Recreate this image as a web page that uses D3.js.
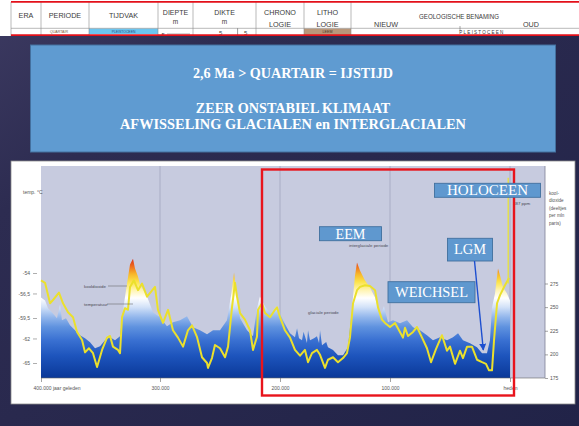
<!DOCTYPE html>
<html>
<head>
<meta charset="utf-8">
<script src="https://cdn.jsdelivr.net/npm/d3@7/dist/d3.min.js"></script>
<style>
  html, body { margin: 0; padding: 0; background: #2a2a4c; overflow: hidden; }
  svg { display: block; }
</style>
</head>
<body>
<svg id="slide" width="579" height="426"></svg>
<script>
// ---- Data -------------------------------------------------------------
// Antarctic ice-core temperature (°C), [thousand years ago, temp]
const temperature = [
  [400,-54.9],[396.6,-55.2],[392.4,-57.7],[389.9,-57.3],[384.9,-56.4],[381.5,-57.7],
  [377.3,-58.8],[373.1,-59.4],[369.7,-61.2],[365.5,-62.2],[363.0,-63.7],[359.7,-63.2],
  [356.3,-63.8],[352.9,-65.5],[348.7,-63.4],[344.5,-61.9],[342.0,-61.7],[339.5,-63.0],
  [335.3,-63.4],[333.6,-63.8],[331.9,-59.4],[329.4,-58.3],[326.9,-58.5],[325.2,-55.7],
  [321.9,-54.9],[318.5,-56.1],[315.1,-55.3],[310.9,-56.9],[307.6,-56.3],[304.2,-55.7],
  [301.7,-58.5],[297.5,-60.1],[293.3,-58.5],[289.2,-61.0],[285.0,-61.9],[280.8,-63.0],
  [276.7,-61.0],[273.3,-60.4],[269.2,-61.8],[265.0,-64.3],[260.8,-65.0],[260.0,-65.6],
  [256.7,-64.4],[254.2,-62.8],[250.0,-63.2],[245.8,-64.3],[243.3,-63.0],[240.0,-58.2],
  [237.5,-55.2],[235.8,-56.9],[233.3,-58.9],[229.2,-59.7],[225.0,-61.0],[222.5,-63.4],
  [219.2,-61.8],[218.3,-58.5],[215.0,-57.7],[212.5,-58.9],[208.3,-59.4],[204.2,-58.5],
  [202.5,-58.2],[200.0,-59.4],[195.5,-61.0],[190.9,-61.9],[186.4,-63.4],[181.8,-64.1],
  [177.3,-63.4],[174.5,-64.9],[170.9,-63.8],[166.4,-63.4],[163.6,-64.0],[159.1,-65.6],
  [156.4,-64.6],[151.8,-64.3],[147.3,-64.9],[142.7,-64.4],[139.1,-63.8],[136.4,-61.9],
  [133.6,-57.7],[130.0,-56.1],[127.3,-55.7],[122.7,-55.5],[118.2,-55.6],[113.6,-56.1],
  [110.9,-58.2],[107.3,-59.7],[104.5,-60.1],[100.0,-60.6],[95.8,-60.1],[91.7,-61.2],
  [89.2,-61.9],[87.5,-60.7],[85.0,-61.7],[80.8,-61.2],[77.5,-60.6],[73.3,-61.9],
  [69.2,-63.2],[65.8,-64.9],[61.7,-63.3],[56.7,-61.6],[52.5,-63.5],[50.0,-63.0],
  [45.8,-65.1],[41.7,-63.5],[39.2,-64.4],[35.8,-63.0],[31.7,-63.0],[27.5,-64.6],
  [23.3,-64.9],[20.0,-65.1],[17.5,-65.9],[15.0,-65.9],[13.3,-62.2],[10.8,-57.7],
  [8.3,-56.7],[4.2,-55.5],[0.8,-54.6]
];

// Atmospheric CO2 (ppm), [thousand years ago, ppm]
const co2 = [
  [400,260.3],[396.6,257.1],[394.1,248.7],[390.8,244.5],[386.6,238.2],[384.0,252.9],
  [382.4,236.1],[379.0,238.2],[375.6,230.8],[371.4,225.5],[367.2,220.3],[363.0,217.1],
  [358.8,212.9],[354.6,206.6],[350.4,208.7],[346.2,215.0],[342.0,218.2],[337.8,215.0],
  [333.6,219.2],[331.1,246.6],[327.7,275.0],[325.2,295.0],[322.7,301.3],[321.0,290.8],
  [318.5,282.4],[316.8,274.0],[310.9,261.3],[305.9,244.5],[300.0,239.2],[294.2,229.7],
  [289.2,233.9],[283.3,236.1],[277.5,240.3],[272.5,228.7],[266.7,225.5],[260.8,221.3],
  [255.8,225.5],[250.0,225.5],[244.2,236.1],[240.8,262.4],[238.3,286.6],[235.8,259.2],
  [233.3,238.2],[227.5,225.5],[222.5,219.2],[219.2,248.7],[216.7,261.3],[212.5,250.8],
  [208.3,243.4],[202.5,250.8],[197.3,236.1],[190.9,222.4],[186.4,218.2],[184.5,227.6],
  [182.7,217.1],[180.0,215.0],[178.6,224.0],[177.3,219.2],[175.5,212.0],[174.5,225.5],
  [172.7,215.0],[169.1,217.1],[166.4,219.2],[164.5,212.0],[163.6,225.5],[161.8,209.7],
  [158.0,213.0],[156.4,207.6],[151.8,204.5],[147.3,199.2],[142.7,199.2],[138.2,207.6],
  [134.5,249.7],[131.8,283.4],[130.0,297.1],[127.3,288.7],
  [122.7,278.2],[118.2,270.8],[113.6,260.3],[109.1,240.3],[105.5,250.8],[101.8,233.9],
  [97.5,236.1],[91.7,232.9],[85.8,236.1],[80.8,228.7],[75.0,225.5],[69.2,220.3],
  [64.2,215.0],[58.3,218.2],[52.5,215.0],[47.5,218.2],[43.3,222.4],[39.2,215.0],
  [33.3,211.8],[27.5,207.6],[23.3,201.3],[19.2,201.3],[16.7,215.0],[15.0,249.7],
  [12.5,264.5],[10.0,290.8],[8.3,283.4],[5.8,270.8],[2.5,264.5],[0,257.1]
];

// Recent CO2 rise
const modernCo2 = [[1.5, 275], [1.5, 387]];

// Axis ticks
const xTicks = [400, 300, 200, 100, 0];
const xTickLabels = ["400.000 jaar geleden", "300.000", "200.000", "100.000", "heden"];
const tempTicks = [-54, -56.5, -59.5, -62, -65];
const tempTickLabels = ["-54", "-56,5", "-59,5", "-62", "-65"];
const co2Ticks = [275, 250, 225, 200, 175];

// Table header
const tableHeaders = [["ERA"], ["PERIODE"], ["TIJDVAK"], ["DIEPTE", "m"], ["DIKTE", "m"], ["CHRONO", "LOGIE"], ["LITHO", "LOGIE"]];
const titleLines = ["2,6 Ma > QUARTAIR = IJSTIJD", "ZEER ONSTABIEL KLIMAAT", "AFWISSELING GLACIALEN en INTERGLACIALEN"];
const callouts = ["HOLOCEEN", "EEM", "LGM", "WEICHSEL"];

// ---- Layout -----------------------------------------------------------
const W = 579, H = 426;
const plot = { left: 41, right: 545, top: 166, bottom: 378 };

const svg = d3.select("#slide");
const defs = svg.append("defs");

function gradient(id, attrs, stops) {
  const g = defs.append("linearGradient").attr("id", id);
  Object.entries(attrs).forEach(([k, v]) => g.attr(k, v));
  stops.forEach(([o, c]) => g.append("stop").attr("offset", o).attr("stop-color", c));
}
gradient("bg", { x1: 0, y1: 0, x2: 1, y2: 1 },
  [[0, "#3c3a61"], [0.25, "#2d2c51"], [1, "#212348"]]);

const x = d3.scaleLinear().domain(xTicks).range([41, 160, 280, 390, 510]);
const yTemp = d3.scaleLinear().domain([-65, -54]).range([363, 273]);
const yCo2 = d3.scaleLinear().domain([175, 275]).range([378, 283.5]);

// fill colour by height: red peaks, yellow, white, then deepening blue
const co2Stops = [
  [258, "#d42a1a"], [266, "#ee6a1e"], [274, "#f7b62a"], [282, "#fce44a"],
  [290, "#fff4b0"], [298, "#ffffff"], [307, "#d3e2f8"], [317, "#93b7ec"],
  [327, "#5f92df"], [340, "#3a71d2"], [356, "#1d54bc"], [378, "#0a3898"]
];
gradient("co2fill", { gradientUnits: "userSpaceOnUse", x1: 0, y1: 258, x2: 0, y2: 378 },
  co2Stops.map(([py, c]) => [(py - 258) / 120, c]));

defs.append("marker").attr("id", "arrow").attr("viewBox", "0 0 10 10")
  .attr("refX", 9).attr("refY", 5).attr("markerWidth", 5).attr("markerHeight", 5)
  .attr("orient", "auto")
  .append("path").attr("d", "M0,0 L10,5 L0,10 z").attr("fill", "#1d4fd0");

// Slide background
svg.append("rect").attr("width", W).attr("height", H).attr("fill", "url(#bg)");

// ---- Header table -----------------------------------------------------
const table = svg.append("g").attr("font-family", "Liberation Sans, Arial, sans-serif").attr("fill", "#3a3a3a");
table.append("rect").attr("x", 0).attr("y", 0).attr("width", W).attr("height", 36).attr("fill", "#ffffff");
const colEdges = [11, 41, 89, 158, 193, 256, 304, 351];
// coloured cells of the second row
table.append("rect").attr("x", 89).attr("y", 28.5).attr("width", 69).attr("height", 5.5).attr("fill", "#6cc5ef");
table.append("rect").attr("x", 304).attr("y", 28.5).attr("width", 47).attr("height", 6.5).attr("fill", "#b9977a");
colEdges.forEach(cx => table.append("line").attr("x1", cx).attr("x2", cx).attr("y1", 2).attr("y2", 36)
  .attr("stroke", "#8a8a8a").attr("stroke-width", 0.6));
table.append("line").attr("x1", 11).attr("x2", W).attr("y1", 28.3).attr("y2", 28.3).attr("stroke", "#8a8a8a").attr("stroke-width", 0.6);

tableHeaders.forEach((lines, i) => {
  const cx = (colEdges[i] + colEdges[i + 1]) / 2;
  lines.forEach((t, j) => {
    let by, fs = 7.2;
    if (lines.length === 1) by = 17.5;
    else if (t === "m") { by = 24; fs = 6.5; }
    else if (lines[1] === "m") { by = 15; fs = 7; }
    else by = j === 0 ? 14.5 : 26.5;
    table.append("text").attr("x", cx).attr("y", by).attr("text-anchor", "middle")
      .attr("font-size", fs).text(t);
  });
});
table.append("text").attr("x", 386).attr("y", 27.3).attr("text-anchor", "middle").attr("font-size", 7.2).text("NIEUW");
table.append("text").attr("x", 459).attr("y", 19.2).attr("text-anchor", "middle").attr("font-size", 7.2)
  .attr("textLength", 80).attr("lengthAdjust", "spacingAndGlyphs").text("GEOLOGISCHE BENAMING");
table.append("text").attr("x", 531).attr("y", 27.3).attr("text-anchor", "middle").attr("font-size", 7.2).text("OUD");
table.append("line").attr("x1", 460).attr("x2", 460).attr("y1", 26).attr("y2", 31).attr("stroke", "#555").attr("stroke-width", 0.5);

// second row content
table.append("text").attr("x", 59).attr("y", 33).attr("text-anchor", "middle").attr("font-size", 3.6).attr("fill", "#7a5a3a").text("QUARTAIR");
table.append("text").attr("x", 123.5).attr("y", 32.8).attr("text-anchor", "middle").attr("font-size", 3.4).attr("fill", "#2a4a7a").text("PLEISTOCEEN");
table.append("text").attr("x", 327.5).attr("y", 33).attr("text-anchor", "middle").attr("font-size", 3.6).attr("fill", "#4a3020").text("LEEM");
table.append("text").attr("x", 161.5).attr("y", 36.5).attr("font-size", 6).text("5");
table.append("line").attr("x1", 167).attr("x2", 190).attr("y1", 34).attr("y2", 34).attr("stroke", "#555").attr("stroke-width", 0.5);
table.append("text").attr("x", 219).attr("y", 35).attr("font-size", 6).text("5");
table.append("line").attr("x1", 237.6).attr("x2", 237.6).attr("y1", 28.3).attr("y2", 36).attr("stroke", "#555").attr("stroke-width", 0.6);
table.append("text").attr("x", 244).attr("y", 35).attr("font-size", 6).text("5");
table.append("text").attr("x", 482).attr("y", 33.5).attr("text-anchor", "middle").attr("font-size", 4.6)
  .attr("letter-spacing", 1.2).text("PLEISTOCEEN");

// red frame lines
[1.8, 35.2].forEach(ry => svg.append("line").attr("x1", 11).attr("x2", W).attr("y1", ry).attr("y2", ry)
  .attr("stroke", "#e3101a").attr("stroke-width", 1.8));

// ---- Title box --------------------------------------------------------
svg.append("rect").attr("x", 30.5).attr("y", 45).attr("width", 525).attr("height", 107)
  .attr("fill", "#5f9bd1").attr("stroke", "#44709e").attr("stroke-width", 1);
const titleY = [78, 112.5, 128.8];
const titleW = [200, 194.5, 346];
titleLines.forEach((t, i) => {
  svg.append("text").attr("x", 293).attr("y", titleY[i]).attr("text-anchor", "middle")
    .attr("font-family", "Liberation Serif, Times New Roman, serif").attr("font-weight", "bold")
    .attr("font-size", 14).attr("fill", "#ffffff")
    .attr("textLength", titleW[i]).attr("lengthAdjust", "spacingAndGlyphs").text(t);
});

// ---- Chart panel ------------------------------------------------------
svg.append("rect").attr("x", 11).attr("y", 161).attr("width", 564).attr("height", 243)
  .attr("fill", "#ffffff").attr("stroke", "#8c8c8c").attr("stroke-width", 0.8);
svg.append("rect").attr("x", plot.left).attr("y", plot.top).attr("width", plot.right - plot.left)
  .attr("height", plot.bottom - plot.top).attr("fill", "#c7cbdf");

// vertical guide lines
svg.append("g").selectAll("line").data(xTicks.slice(1)).join("line")
  .attr("x1", d => x(d)).attr("x2", d => x(d)).attr("y1", plot.top).attr("y2", plot.bottom)
  .attr("stroke", "#9da2ba").attr("stroke-width", 0.7);

// CO2 area
svg.append("path").datum(co2)
  .attr("d", d3.area().x(d => x(d[0])).y0(plot.bottom).y1(d => yCo2(d[1])))
  .attr("fill", "url(#co2fill)");

// temperature line
svg.append("path").datum(temperature)
  .attr("d", d3.line().x(d => x(d[0])).y(d => yTemp(d[1])))
  .attr("fill", "none").attr("stroke", "#ebe02c").attr("stroke-width", 2).attr("stroke-linejoin", "round");

// recent CO2 rise
svg.append("path").datum(modernCo2)
  .attr("d", d3.line().x(d => x(d[0])).y(d => yCo2(d[1])))
  .attr("fill", "none").attr("stroke", "#e8e23a").attr("stroke-width", 1.3);

// ---- Axes -------------------------------------------------------------
const small = "Liberation Sans, Arial, sans-serif";
const xAxis = svg.append("g").attr("transform", `translate(0,${plot.bottom})`)
  .call(d3.axisBottom(x).tickValues(xTicks).tickFormat((d, i) => xTickLabels[i]).tickSize(4).tickPadding(4));
xAxis.select(".domain").attr("d", `M${plot.left},0H${plot.right}`).attr("stroke", "#666").attr("stroke-width", 0.6);
xAxis.selectAll(".tick line").attr("stroke", "#666").attr("stroke-width", 0.6);
xAxis.selectAll(".tick text").attr("font-family", small).attr("font-size", 5).attr("fill", "#555");
xAxis.selectAll(".tick text").filter(d => d === 400).attr("text-anchor", "start").attr("dx", -8);

const yAxisL = svg.append("g").attr("transform", "translate(37,0)")
  .call(d3.axisLeft(yTemp).tickValues(tempTicks).tickFormat((d, i) => tempTickLabels[i]).tickSize(4).tickPadding(3));
yAxisL.select(".domain").remove();
yAxisL.selectAll(".tick line").attr("stroke", "#777").attr("stroke-width", 0.6);
yAxisL.selectAll(".tick text").attr("font-family", small).attr("font-size", 5).attr("fill", "#555");
svg.append("text").attr("x", 23).attr("y", 193.5).attr("font-family", small).attr("font-size", 5).attr("fill", "#555").text("temp. °C");

svg.append("line").attr("x1", plot.right).attr("x2", plot.right).attr("y1", plot.top).attr("y2", plot.bottom)
  .attr("stroke", "#7d8196").attr("stroke-width", 0.8);
const yAxisR = svg.append("g").attr("transform", `translate(${plot.right},0)`)
  .call(d3.axisRight(yCo2).tickValues(co2Ticks).tickSize(3).tickPadding(2));
yAxisR.select(".domain").remove();
yAxisR.selectAll(".tick line").attr("stroke", "#666").attr("stroke-width", 0.6);
yAxisR.selectAll(".tick text").attr("font-family", small).attr("font-size", 5).attr("fill", "#555");
["kool-", "dioxide", "(deeltjes", "per mln", "parts)"].forEach((t, i) =>
  svg.append("text").attr("x", 549).attr("y", 194.5 + i * 7.6).attr("font-family", small)
    .attr("font-size", 4.6).attr("fill", "#555").text(t));

// inline annotations
const note = (t, nx, ny) => svg.append("text").attr("x", nx).attr("y", ny).attr("font-family", small)
  .attr("font-size", 4.4).attr("fill", "#4a4a55").text(t);
note("kooldioxide", 84, 287.5);
note("temperatuur", 84, 305.5);
note("glaciale periode", 308, 313.5);
note("interglaciale periode", 349, 246.5);
note("387 ppm", 513, 205);
svg.append("line").attr("x1", 108).attr("x2", 127).attr("y1", 286).attr("y2", 286).attr("stroke", "#555").attr("stroke-width", 0.5);
svg.append("line").attr("x1", 107).attr("x2", 133).attr("y1", 304).attr("y2", 304).attr("stroke", "#555").attr("stroke-width", 0.5);

// ---- Highlight frame and callouts -------------------------------------
svg.append("rect").attr("x", 262).attr("y", 169.5).attr("width", 252).attr("height", 226)
  .attr("fill", "none").attr("stroke", "#e8141c").attr("stroke-width", 2.4);

const boxes = [
  { x: 434.5, y: 183.3, w: 106, h: 14, tw: 81 },
  { x: 319.5, y: 226.7, w: 62, h: 14, tw: 30 },
  { x: 447.5, y: 238.3, w: 45, h: 22.7, tw: 32 },
  { x: 388, y: 281.7, w: 87, h: 21, tw: 73 }
];
callouts.forEach((t, i) => {
  const b = boxes[i];
  svg.append("rect").attr("x", b.x).attr("y", b.y).attr("width", b.w).attr("height", b.h)
    .attr("fill", "#5f98cf").attr("stroke", "#41709e").attr("stroke-width", 0.9);
  svg.append("text").attr("x", b.x + b.w / 2).attr("y", b.y + b.h / 2 + 4.8).attr("text-anchor", "middle")
    .attr("font-family", "Liberation Serif, Times New Roman, serif").attr("font-size", 14).attr("fill", "#ffffff")
    .attr("textLength", b.tw).attr("lengthAdjust", "spacingAndGlyphs").text(t);
});

svg.append("line").attr("x1", 474.5).attr("y1", 261).attr("x2", 483.3).attr("y2", 350)
  .attr("stroke", "#1d4fd0").attr("stroke-width", 1.4).attr("marker-end", "url(#arrow)");
</script>
</body>
</html>
